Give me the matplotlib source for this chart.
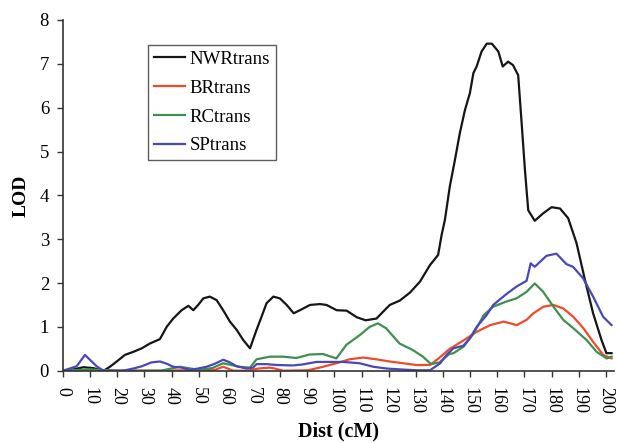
import matplotlib
matplotlib.use("Agg")
import matplotlib.pyplot as plt

plt.rcParams['font.family'] = ['Liberation Serif', 'DejaVu Serif']

# NWRtrans (black)
nwr_x = [0, 4, 7.5, 11, 15, 17.3, 19.8, 22.8, 25.9, 29.0, 32.0, 35.7, 38.2, 40.6, 43.7, 46.2, 48.0, 49.8,
         51.7, 54.1, 56.6, 59.0, 61.5, 64.0, 66.4, 68.9, 71.3, 73.2, 75.0, 77.5, 79.9, 82.4, 85.0, 87.3,
         91.0, 94.7, 97.1, 100.8, 104.5, 108.2, 111.5, 115.5, 118.0, 120.4, 124.1, 127.8, 131.5, 135.2,
         138.2, 139.5, 140.7, 142.5, 144.4, 146.2, 148.1, 149.9, 151.2, 152.4, 154.2, 156.1, 158.0, 160.4,
         162.0, 164.0, 165.8, 167.7, 168.9, 170.2, 171.4, 173.8, 176.9, 180.0, 183.1, 186.1, 189.2, 192.3,
         195.3, 198.4, 200.2, 202.1]
nwr_y = [0, 0.03, 0.08, 0.06, 0.0, 0.09, 0.21, 0.36, 0.43, 0.51, 0.62, 0.72, 1.00, 1.19, 1.38, 1.48, 1.38, 1.50,
         1.65, 1.69, 1.61, 1.38, 1.12, 0.93, 0.70, 0.51, 0.93, 1.24, 1.54, 1.69, 1.65, 1.50, 1.31, 1.38,
         1.50, 1.52, 1.50, 1.38, 1.37, 1.22, 1.15, 1.19, 1.35, 1.50, 1.60, 1.78, 2.03, 2.41,
         2.64, 3.10, 3.44, 4.20, 4.81, 5.42, 5.95, 6.33, 6.79, 6.94, 7.28, 7.46, 7.46, 7.28,
         6.94, 7.05, 6.97, 6.74, 5.71, 4.57, 3.66, 3.42, 3.59, 3.73, 3.70, 3.48, 2.91, 2.07,
         1.31, 0.70, 0.40, 0.40]

# BRtrans (red)
br_x = [0, 36, 56, 59, 62.7, 68, 72, 76.2, 78, 81.1, 90.3, 95.8, 100.7, 105.6, 110.5, 115.4, 120.4, 125.3,
        130.2, 135.2, 138.8, 142.5, 143.9, 148.8, 152.5, 157.4, 162.3, 167.2, 170.8, 173.3, 177.0,
        180.7, 184.3, 188.0, 191.7, 195.3, 199.0, 202.1]
br_y = [0, 0, 0.02, 0.09, 0.0, 0.0, 0.05, 0.07, 0.05, 0.0, 0.01, 0.09, 0.17, 0.26, 0.30, 0.26, 0.21, 0.17,
        0.13, 0.13, 0.30, 0.50, 0.55, 0.74, 0.89, 1.04, 1.12, 1.04, 1.16, 1.31, 1.46,
        1.50, 1.42, 1.23, 0.97, 0.66, 0.36, 0.28]

# RCtrans (green)
rc_x = [0, 10, 20, 36, 43, 50, 55, 59, 65, 68.9, 71.3, 76.2, 81.1, 86.0, 90.9, 95.8, 100.7, 104.4, 109.3,
        113.0, 116.0, 119.0, 124.0, 128.9, 132.6, 135.6, 138.7, 142.3, 143.9, 147.6, 151.3, 155.0, 158.5,
        163.4, 167.1, 170.8, 173.8, 176.9, 180.7, 184.3, 188.0, 192.9, 196.6, 200.3, 202.1]
rc_y = [0, 0.03, 0.0, 0.0, 0.09, 0.02, 0.06, 0.17, 0.09, 0.07, 0.26, 0.32, 0.32, 0.29, 0.37, 0.38, 0.28, 0.59, 0.81,
        1.00, 1.08, 0.97, 0.62, 0.47, 0.32, 0.15, 0.19, 0.38, 0.40, 0.55, 0.85, 1.27, 1.46,
        1.58, 1.65, 1.80, 1.99, 1.80, 1.46, 1.16, 0.97, 0.70, 0.43, 0.28, 0.32]

# SPtrans (blue)
sp_x = [0, 5.0, 8.1, 12.4, 14.9, 22.2, 25.9, 29.0, 32.6, 35.7, 38.2, 40.6, 43.7, 46.7, 49.8, 52.9, 56.0, 59.0,
        61.5, 64.0, 67.6, 70.0, 71.3, 75.0, 78.7, 84.8, 88.0, 93.4, 97.1, 103.2, 109.3, 114.3, 119.2, 124.1,
        130.2, 135.2, 139.0, 141.3, 143.8, 147.5, 149.9, 152.4, 156.1, 158.5, 163.4, 167.1, 170.8, 172.3,
        173.8, 178.1, 181.8, 185.5, 187.9, 191.6, 195.3, 199.0, 202.1]
sp_y = [0, 0.10, 0.36, 0.10, 0.0, 0.0, 0.05, 0.10, 0.19, 0.21, 0.16, 0.09, 0.07, 0.02, 0.05, 0.09, 0.16, 0.25,
        0.19, 0.10, 0.05, 0.07, 0.15, 0.15, 0.13, 0.12, 0.14, 0.20, 0.20, 0.20, 0.17, 0.09, 0.05, 0.03,
        0.01, 0.01, 0.17, 0.36, 0.51, 0.57, 0.74, 1.00, 1.27, 1.50, 1.75, 1.92, 2.05, 2.45,
        2.37, 2.62, 2.67, 2.43, 2.37, 2.11, 1.69, 1.23, 1.04]

series = [
    ("NWRtrans", nwr_x, nwr_y, "#151515"),
    ("BRtrans", br_x, br_y, "#f04a2c"),
    ("RCtrans", rc_x, rc_y, "#3f8f4f"),
    ("SPtrans", sp_x, sp_y, "#4a48b8"),
]

x_ticks = list(range(0, 201, 10))
y_ticks = list(range(0, 9))

fig = plt.figure(figsize=(6.18, 4.43), dpi=100)
ax = fig.add_axes([63/618, (443-370.7)/443, (614-63)/618, (370.7-20)/443])

for name, xs, ys, c in series:
    ax.plot(xs, ys, color=c, lw=1.6, label=name, solid_joinstyle='round')

ax.set_xlim(0, 203)
ax.set_ylim(0, 8)
ax.set_xticks(x_ticks)
ax.set_xticklabels([str(t) for t in x_ticks], rotation=-90, fontsize=13)
ax.set_yticks(y_ticks)
ax.set_yticklabels([str(t) for t in y_ticks], fontsize=13.5)
ax.tick_params(axis='both', direction='out', length=4, width=1, color='#333333')
ax.tick_params(axis='x', pad=8)
ax.tick_params(axis='y', pad=6)
for s in ['top', 'right']:
    ax.spines[s].set_visible(False)
for s in ['left', 'bottom']:
    ax.spines[s].set_color('#333333')
    ax.spines[s].set_linewidth(1.2)

ax.set_xlabel("Dist (cM)", fontsize=14.5, fontweight='bold', labelpad=5)
ax.set_ylabel("LOD", fontsize=14, fontweight='bold', labelpad=7)

leg = ax.legend(loc='upper left', bbox_to_anchor=(0.154, 0.929), frameon=True, fancybox=False,
                fontsize=13.5, handlelength=1.65, handletextpad=0.25, labelspacing=0.62,
                borderpad=0.32, borderaxespad=0)
leg.get_frame().set_edgecolor('#333333')
leg.get_frame().set_linewidth(1.0)

fig.savefig("out.png", dpi=100)
